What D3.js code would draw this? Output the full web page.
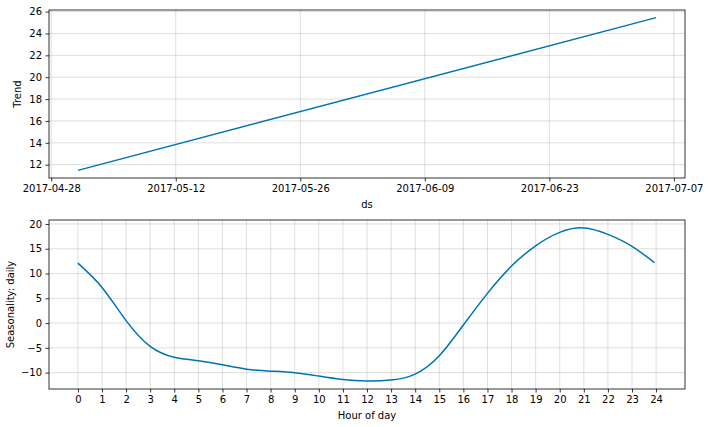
<!DOCTYPE html>
<html><head><meta charset="utf-8">
<script src="https://cdn.jsdelivr.net/npm/d3@7"></script>
<style>
body{margin:0;background:#fff;}
svg text{font-family:"DejaVu Sans",sans-serif;fill:#000;}
</style></head>
<body><svg id="c" width="710" height="427"></svg>
<script>
// Trend data (dates, values)
const trendDates = ["2017-05-01", "2017-07-05"];
const trendValues = [11.48, 25.45];
const trendYTicks = [12, 14, 16, 18, 20, 22, 24, 26];
const trendXTicks = ["2017-04-28", "2017-05-12", "2017-05-26", "2017-06-09", "2017-06-23", "2017-07-07"];

// Daily seasonality
const hours = [0, 1, 2, 3, 4, 5, 6, 7, 8, 9, 10, 11, 12, 13, 14, 15, 16, 17, 18, 19, 20, 21, 22, 23, 23.93];
const seasonal = [12.1, 7.2, 0.5, -4.7, -6.9, -7.6, -8.4, -9.3, -9.7, -10.0, -10.7, -11.4, -11.7, -11.5, -10.3, -6.6, -0.4, 6.0, 11.5, 15.6, 18.3, 19.2, 17.9, 15.5, 12.2];
const hourTicks = d3.range(0, 25);
const seasonYTicks = [-10, -5, 0, 5, 10, 15, 20];

const svg = d3.select("#c");
const lineColor = "#0072B2";
const parse = d3.utcParse("%Y-%m-%d");
const fmt = d3.utcFormat("%Y-%m-%d");

function frame(g, x, y, w, h) {
  g.append("rect").attr("x", x).attr("y", y).attr("width", w).attr("height", h)
    .attr("fill", "none").attr("stroke", "#000").attr("stroke-width", 0.8);
}
function styleAxis(a) {
  a.select(".domain").remove();
  a.selectAll(".tick line").attr("stroke", "#000").attr("stroke-width", 0.8);
  a.selectAll(".tick text").attr("font-size", 10).attr("fill", "#000").style("font-family", "DejaVu Sans");
}

// ---------- Top panel ----------
{
  const L = 49, R = 685, T = 10, B = 178;
  const td = trendDates.map(parse);
  const span = td[1] - td[0];
  const x = d3.scaleUtc().domain([new Date(+td[0] - span * 0.05), new Date(+td[1] + span * 0.05)]).range([L, R]);
  const ymin = d3.min(trendValues), ymax = d3.max(trendValues), yr = ymax - ymin;
  const y = d3.scaleLinear().domain([ymin - yr * 0.05, ymax + yr * 0.05]).range([B, T]);
  const g = svg.append("g");
  const xt = trendXTicks.map(parse);
  g.selectAll(".gx").data(xt).join("line").attr("x1", d => x(d)).attr("x2", d => x(d)).attr("y1", T).attr("y2", B)
    .attr("stroke", "#808080").attr("stroke-opacity", 0.25).attr("stroke-width", 1);
  g.selectAll(".gy").data(trendYTicks).join("line").attr("y1", d => y(d)).attr("y2", d => y(d)).attr("x1", L).attr("x2", R)
    .attr("stroke", "#808080").attr("stroke-opacity", 0.25).attr("stroke-width", 1);
  g.append("path").datum(td.map((d, i) => [d, trendValues[i]]))
    .attr("d", d3.line().x(d => x(d[0])).y(d => y(d[1])))
    .attr("fill", "none").attr("stroke", lineColor).attr("stroke-width", 1.5);
  frame(g, L, T, R - L, B - T);
  const ax = g.append("g").attr("transform", `translate(0,${B})`)
    .call(d3.axisBottom(x).tickValues(xt).tickFormat(fmt).tickSize(3.5).tickPadding(3.5));
  styleAxis(ax);
  const ay = g.append("g").attr("transform", `translate(${L},0)`)
    .call(d3.axisLeft(y).tickValues(trendYTicks).tickFormat(d3.format("d")).tickSize(3.5).tickPadding(3.5));
  styleAxis(ay);
  g.append("text").attr("x", (L + R) / 2).attr("y", 208).attr("text-anchor", "middle").attr("font-size", 10).text("ds");
  g.append("text").attr("transform", `translate(21,${(T + B) / 2}) rotate(-90)`).attr("text-anchor", "middle").attr("font-size", 10).text("Trend");
}

// ---------- Bottom panel ----------
{
  const L = 49, R = 685, T = 220, B = 389;
  const x = d3.scaleLinear().domain([-0.05 * 24, 24 * 1.05]).range([L, R]);
  const ymin = -11.75, ymax = 19.25, yr = ymax - ymin;
  const y = d3.scaleLinear().domain([ymin - yr * 0.05, ymax + yr * 0.05]).range([B, T]);
  const g = svg.append("g");
  g.selectAll(".gx").data(hourTicks).join("line").attr("x1", d => x(d)).attr("x2", d => x(d)).attr("y1", T).attr("y2", B)
    .attr("stroke", "#808080").attr("stroke-opacity", 0.25).attr("stroke-width", 1);
  g.selectAll(".gy").data(seasonYTicks).join("line").attr("y1", d => y(d)).attr("y2", d => y(d)).attr("x1", L).attr("x2", R)
    .attr("stroke", "#808080").attr("stroke-opacity", 0.25).attr("stroke-width", 1);
  g.append("path").datum(hours.map((h, i) => [h, seasonal[i]]))
    .attr("d", d3.line().curve(d3.curveNatural).x(d => x(d[0])).y(d => y(d[1])))
    .attr("fill", "none").attr("stroke", lineColor).attr("stroke-width", 1.5);
  frame(g, L, T, R - L, B - T);
  const ax = g.append("g").attr("transform", `translate(0,${B})`)
    .call(d3.axisBottom(x).tickValues(hourTicks).tickFormat(d3.format("d")).tickSize(3.5).tickPadding(3.5));
  styleAxis(ax);
  const ay = g.append("g").attr("transform", `translate(${L},0)`)
    .call(d3.axisLeft(y).tickValues(seasonYTicks).tickFormat(d => d < 0 ? "\u2212" + Math.abs(d) : d).tickSize(3.5).tickPadding(3.5));
  styleAxis(ay);
  g.append("text").attr("x", (L + R) / 2).attr("y", 419).attr("text-anchor", "middle").attr("font-size", 10).text("Hour of day");
  g.append("text").attr("transform", `translate(14,${(T + B) / 2}) rotate(-90)`).attr("text-anchor", "middle").attr("font-size", 10).text("Seasonality: daily");
}
</script></body></html>
